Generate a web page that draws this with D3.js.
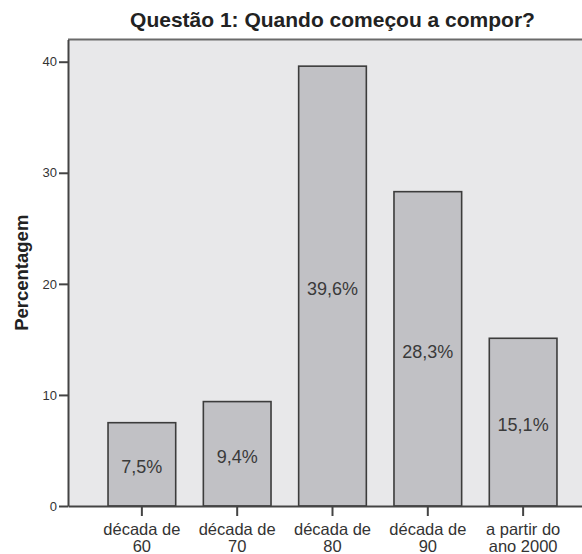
<!DOCTYPE html>
<html>
<head>
<meta charset="utf-8">
<script src="https://cdn.jsdelivr.net/npm/d3@7"></script>
<style>
  html, body { margin: 0; padding: 0; background: #fff; }
  svg { display: block; }
  text { font-family: "Liberation Sans", Arial, sans-serif; }
</style>
</head>
<body>
<svg id="chart" width="582" height="554"></svg>
<script>
// Survey answers: when the respondents started composing
const categories = [["década de", "60"], ["década de", "70"], ["década de", "80"], ["década de", "90"], ["a partir do", "ano 2000"]];
const percentages = [7.5, 9.4, 39.6, 28.3, 15.1];
const valueLabels = ["7,5%", "9,4%", "39,6%", "28,3%", "15,1%"];
const yTicks = [0, 10, 20, 30, 40];
const title = "Questão 1: Quando começou a compor?";
const yTitle = "Percentagem";

const svg = d3.select("#chart");
const plot = { left: 68, right: 597, top: 39.5, bottom: 506 };

const keys = categories.map((c, i) => i);
const x = d3.scaleBand()
  .domain(keys)
  .range([plot.left, plot.right])
  .paddingInner(0.29)
  .paddingOuter(0.42);

const y = d3.scaleLinear()
  .domain([0, 42])
  .range([plot.bottom, plot.top]);

// plot frame background
svg.append("rect")
  .attr("x", plot.left).attr("y", plot.top)
  .attr("width", plot.right - plot.left).attr("height", plot.bottom - plot.top)
  .attr("fill", "#e8e8ea");

svg.append("line")
  .attr("x1", plot.left).attr("x2", plot.right)
  .attr("y1", plot.top).attr("y2", plot.top)
  .attr("stroke", "#6a6a6a").attr("stroke-width", 2);

// bars
svg.append("g").selectAll("rect")
  .data(percentages)
  .join("rect")
  .attr("x", (d, i) => x(i))
  .attr("y", d => y(d))
  .attr("width", x.bandwidth())
  .attr("height", d => y(0) - y(d))
  .attr("fill", "#c1c1c5")
  .attr("stroke", "#3c3c3c")
  .attr("stroke-width", 1.6);

// value labels in the middle of each bar
svg.append("g").selectAll("text")
  .data(percentages)
  .join("text")
  .attr("x", (d, i) => x(i) + x.bandwidth() / 2)
  .attr("y", d => (y(d) + y(0)) / 2 + 9)
  .attr("text-anchor", "middle")
  .attr("font-size", 18)
  .attr("fill", "#3a3a3a")
  .text((d, i) => valueLabels[i]);

// y axis
const yAxis = svg.append("g")
  .attr("transform", `translate(${plot.left},0)`)
  .call(d3.axisLeft(y).tickValues(yTicks).tickSize(9).tickSizeOuter(0).tickPadding(2).tickFormat(d3.format("d")));
yAxis.select(".domain").attr("stroke", "#444").attr("stroke-width", 2);
yAxis.selectAll(".tick line").attr("stroke", "#444").attr("stroke-width", 2);
yAxis.selectAll(".tick text")
  .attr("font-family", "Liberation Sans, Arial, sans-serif")
  .attr("font-size", 13).attr("fill", "#333");

// x axis
const xAxis = svg.append("g")
  .attr("transform", `translate(0,${plot.bottom})`)
  .call(d3.axisBottom(x).tickSize(10).tickSizeOuter(0).tickFormat(""));
xAxis.select(".domain").attr("stroke", "#444").attr("stroke-width", 2);
xAxis.selectAll(".tick line").attr("stroke", "#444").attr("stroke-width", 2);
xAxis.selectAll(".tick").each(function (d) {
  const t = d3.select(this).append("text")
    .attr("text-anchor", "middle")
    .attr("font-family", "Liberation Sans, Arial, sans-serif")
    .attr("font-size", 16.5)
    .attr("fill", "#333");
  categories[d].forEach((line, k) => {
    t.append("tspan").attr("x", 0).attr("y", 29 + k * 17).text(line);
  });
});

// titles
svg.append("text")
  .attr("x", (plot.left + plot.right) / 2)
  .attr("y", 27)
  .attr("text-anchor", "middle")
  .attr("font-size", 21)
  .attr("font-weight", "bold")
  .attr("fill", "#222")
  .text(title);

svg.append("text")
  .attr("transform", `translate(28,${(plot.top + plot.bottom) / 2}) rotate(-90)`)
  .attr("text-anchor", "middle")
  .attr("font-size", 18.5)
  .attr("font-weight", "bold")
  .attr("fill", "#222")
  .text(yTitle);
</script>
</body>
</html>
